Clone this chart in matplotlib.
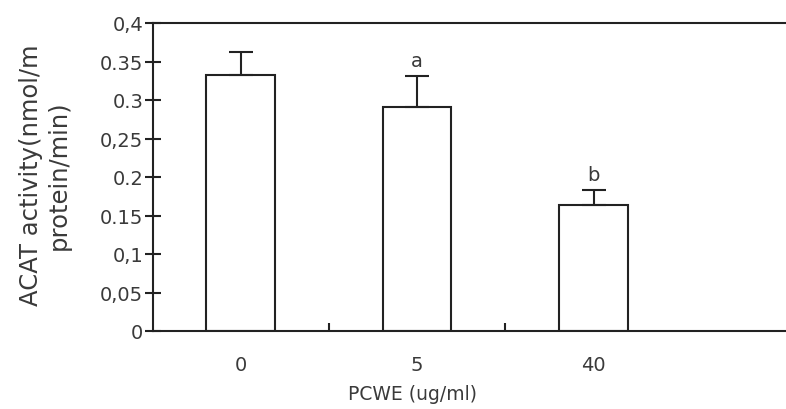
import numpy as np
import matplotlib.pyplot as plt

# data
groups = ['0', '5', '40']
acat = [0.332, 0.291, 0.163]
err = [0.030, 0.040, 0.020]
sig = ['', 'a', 'b']
yvals = [0, 0.05, 0.1, 0.15, 0.2, 0.25, 0.3, 0.35, 0.4]
ylabs = ['0', '0,05', '0,1', '0.15', '0.2', '0,25', '0.3', '0.35', '0,4']

ink = '#222222'
txt = '#3a3a3a'
plt.rcParams['font.family'] = 'DejaVu Sans'

fig = plt.figure(figsize=(7.86, 4.10), dpi=100)
ax = fig.add_axes([153/786, 78/410, 1 - 153/786, 308/410])

x = np.arange(len(groups))
ax.bar(x, acat, width=0.39, color='white', edgecolor=ink, linewidth=1.5)
ax.errorbar(x, acat, yerr=[np.zeros(3), err], fmt='none', ecolor=ink,
            elinewidth=1.5, capsize=8.5, capthick=1.5)
for xi, yi, e, s in zip(x, acat, err, sig):
    if s:
        ax.text(xi, yi + e + 0.02, s, ha='center', va='center', fontsize=14, color=txt)

ax.set_xlim(-0.496, 3.09)
ax.set_ylim(0, 0.4)
ax.spines['right'].set_visible(False)
for sp in ['left', 'top', 'bottom']:
    ax.spines[sp].set_linewidth(1.5)
    ax.spines[sp].set_color(ink)

ax.set_yticks(yvals)
ax.set_yticklabels(ylabs)
ax.tick_params(axis='y', direction='inout', length=12, width=1.5, color=ink,
               labelsize=14, labelcolor=txt, pad=1)

ax.set_xticks([0.5, 1.5])
ax.set_xticklabels(['', ''])
ax.set_xticks(x, minor=True)
ax.set_xticklabels(groups, minor=True)
ax.tick_params(axis='x', which='major', direction='in', length=6, width=1.5, color=ink)
ax.tick_params(axis='x', which='minor', length=0, labelsize=14, labelcolor=txt, pad=17.5)

fig.text(413/786, 1 - 395/410, 'PCWE (ug/ml)', ha='center', va='center',
         fontsize=13.5, color=txt)
fig.text(45/786, 1 - 175/410, 'ACAT activity(nmol/m\nprotein/min)', rotation=90,
         ha='center', va='center', multialignment='center', fontsize=17.5,
         color=txt, linespacing=1.2)

fig.savefig('out.png', dpi=100)
